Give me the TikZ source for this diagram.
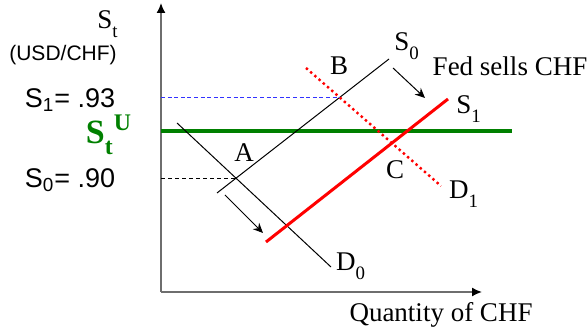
\documentclass[tikz,border=0pt]{standalone}
\usepackage{fontspec}
\setmainfont{Liberation Serif}
\setsansfont{Liberation Sans}
\usetikzlibrary{arrows.meta,intersections}
\definecolor{fedgreen}{HTML}{008000}
\definecolor{axisgray}{HTML}{6E6E6E}
\definecolor{lineblue}{HTML}{3232FF}
\newcommand\lsub[1]{\raisebox{-.4ex}{\textsubscript{#1}}}

\begin{document}
\begin{tikzpicture}[x=.5pt,y=.5pt,every node/.style={font=\fontsize{13.5}{16}\selectfont,inner sep=0pt}]
\useasboundingbox (-161,-38) rectangle (426,292);
% axes
\coordinate (O) at (0,0);
\coordinate (ytop) at (0,289);
\coordinate (xend) at (321,0);
\draw[axisgray,line width=.8pt,-{Latex[color=black,length=5pt,width=4.5pt]}] (O)--(ytop);
\draw[axisgray,line width=.8pt,-{Latex[color=black,length=5pt,width=4.5pt]}] (O)--(xend);
% target rate
\draw[fedgreen,line width=2pt] (0,161) coordinate (gl) -- (351,161) coordinate (gr);
% supply and demand
\draw[line width=.5pt,name path=S0] (56,99) coordinate (s0a) -- (228,233) coordinate (s0b);
\draw[line width=.5pt,name path=D0] (16,169) coordinate (d0a) -- (170,25) coordinate (d0b);
\draw[red,line width=1.5pt] (105,50) coordinate (s1a) -- (287,193) coordinate (s1b);
\draw[red,line width=1.2pt,dash pattern=on 1.2pt off 1.6pt,name path=D1] (145,224) coordinate (d1a) -- (280,106) coordinate (d1b);
\path[name intersections={of=S0 and D0,by=A}];
\path[name intersections={of=S0 and D1,by=B}];
\draw[line width=.5pt,dash pattern=on 2pt off 1.5pt] (A -| O) -- (A);
\draw[lineblue,line width=.8pt,dash pattern=on 2pt off 1.3pt] (B -| O) -- (B);
% shifts
\coordinate (sh1) at (232,224); \coordinate (sh2) at (264,194);
\coordinate (dh1) at (64,97); \coordinate (dh2) at (102,59);
\draw[line width=.5pt,-{Stealth[length=5pt,width=4.5pt]}] (sh1)--(sh2);
\draw[line width=.5pt,-{Stealth[length=5pt,width=4.5pt]}] (dh1)--(dh2);
% labels
\node (lS0) at (246,246){S\lsub{0}};
\node (lB) at (178,226){B};
\node (lfed) at (349,226){Fed sells CHF};
\node (lS1) at (308,183){S\lsub{1}};
\node (lC) at (234,122){C};
\node (lD1) at (303,98){D\lsub{1}};
\node (lA) at (83,139){A};
\node (lD0) at (190,26){D\lsub{0}};
\node (lq) at (280,-23){Quantity of CHF};
\node (lSt) at (-53,268){S\lsub{t}};
\node[font=\sffamily\fontsize{10.5}{12}\selectfont] (lunit) at (-98,237){(USD/CHF)};
\node[font=\sffamily\fontsize{13.5}{16}\selectfont] (lS1v) at (-91,192){S\textsubscript{1}= .93};
\node[font=\bfseries\fontsize{17}{20}\selectfont,text=fedgreen] (lStU) at (-52,157){S\lsub{t}\textsuperscript{U}};
\node[font=\sffamily\fontsize{13.5}{16}\selectfont] (lS0v) at (-91,112){S\textsubscript{0}= .90};
\end{tikzpicture}
\end{document}
